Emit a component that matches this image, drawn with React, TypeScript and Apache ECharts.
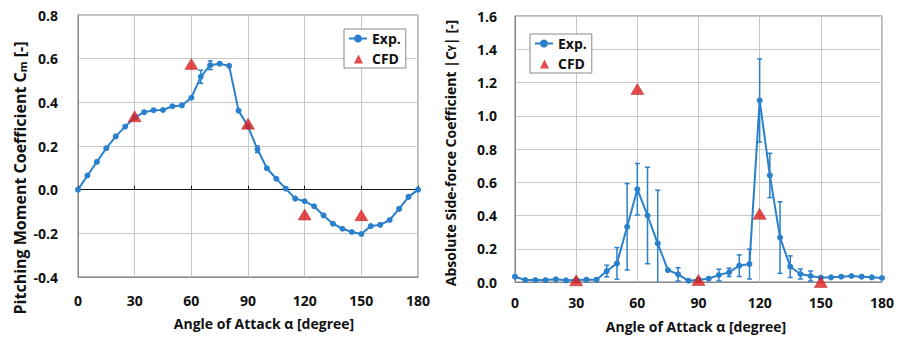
import React, { useEffect, useRef } from "react";
import * as echarts from "echarts";

const angles = [0, 5, 10, 15, 20, 25, 30, 35, 40, 45, 50, 55, 60, 65, 70, 75, 80, 85, 90, 95, 100, 105, 110, 115, 120, 125, 130, 135, 140, 145, 150, 155, 160, 165, 170, 175, 180];
const cmExp = [0, 0.065, 0.127, 0.19, 0.244, 0.289, 0.33, 0.355, 0.364, 0.365, 0.382, 0.386, 0.421, 0.517, 0.57, 0.577, 0.567, 0.362, 0.29, 0.185, 0.098, 0.05, 0.005, -0.041, -0.053, -0.076, -0.118, -0.156, -0.179, -0.194, -0.203, -0.167, -0.161, -0.139, -0.088, -0.033, 0];
const cmErr = [0, 0, 0, 0, 0, 0, 0, 0, 0, 0, 0, 0, 0, 0.03, 0.02, 0, 0, 0, 0, 0.015, 0, 0, 0, 0, 0, 0, 0, 0, 0, 0, 0, 0, 0, 0, 0, 0, 0];
const cfdAngles = [30, 60, 90, 120, 150];
const cmCfd = [0.336, 0.576, 0.302, -0.114, -0.117];

const cyExp = [0.032, 0.012, 0.012, 0.012, 0.016, 0.01, 0.012, 0.014, 0.014, 0.066, 0.112, 0.332, 0.558, 0.4, 0.232, 0.072, 0.046, 0.008, 0.014, 0.02, 0.042, 0.058, 0.098, 0.108, 1.092, 0.641, 0.267, 0.092, 0.048, 0.036, 0.026, 0.028, 0.032, 0.036, 0.032, 0.028, 0.024];
const cyErr = [0, 0, 0, 0, 0, 0, 0, 0, 0, 0.035, 0.095, 0.26, 0.155, 0.29, 0.32, 0, 0.04, 0, 0, 0, 0.035, 0.025, 0.065, 0.09, 0.25, 0.133, 0.215, 0.065, 0.03, 0.03, 0, 0, 0, 0, 0, 0, 0];
const cyCfd = [0.01, 1.161, 0.012, 0.41, 0.0];

const xTicks = [0, 30, 60, 90, 120, 150, 180];

const FONT = "'Open Sans', 'Noto Sans', sans-serif";
const BLUE = "#2b80cc";
const RED = "#e11d1d";
const TRI_ICON = "path://M0,0 M18,10 M5,10 L9.5,1 L14,10 Z";

function errRender(params: any, api: any) {
  const x = api.value(0);
  const y = api.value(1);
  const e = api.value(2);
  if (!e) return null;
  const top = api.coord([x, y + e]);
  const bot = api.coord([x, y - e]);
  const style = { stroke: BLUE, lineWidth: 1.5 };
  return {
    type: "group",
    children: [
      { type: "line", shape: { x1: top[0], y1: top[1], x2: bot[0], y2: bot[1] }, style },
      { type: "line", shape: { x1: top[0] - 2.5, y1: top[1], x2: top[0] + 2.5, y2: top[1] }, style },
      { type: "line", shape: { x1: bot[0] - 2.5, y1: bot[1], x2: bot[0] + 2.5, y2: bot[1] }, style },
    ],
  };
}

function legendFor(left: number, top: number) {
  return {
    left,
    top,
    orient: "vertical",
    data: [
      { name: "Exp." },
      { name: "CFD", icon: TRI_ICON, itemStyle: { color: RED, borderWidth: 0 } },
    ],
    backgroundColor: "#fff",
    borderColor: "#888",
    borderWidth: 1,
    padding: [2, 5, 2, 4],
    itemGap: 5,
    itemWidth: 18,
    itemHeight: 10,
    textStyle: { fontFamily: FONT, fontWeight: "bold", fontSize: 14, color: "#111", lineHeight: 15 },
    selectedMode: false,
  };
}

export default function App() {
  const ref = useRef<HTMLDivElement>(null);
  useEffect(() => {
    document.body.style.margin = "0";
    const chart = echarts.init(ref.current!, undefined, { renderer: "svg" });
    const axisLabel = { fontFamily: FONT, fontWeight: "bold" as const, fontSize: 14, color: "#111" };
    const xAxisBase = (gridIndex: number, margin: number) => ({
      type: "value",
      gridIndex,
      min: 0,
      max: 180,
      interval: 30,
      axisLine: { show: true, onZero: false, lineStyle: { color: "#888" } },
      axisTick: { show: false },
      axisLabel: { ...axisLabel, margin, formatter: (v: number) => (xTicks.includes(v) ? String(v) : "") },
      splitLine: { show: true, lineStyle: { color: "#c8c8c8", width: 1 } },
    });
    const option: any = {
      animation: false,
      backgroundColor: "#fff",
      grid: [
        { left: 78, top: 15, width: 340, height: 262, show: true, borderColor: "#777", borderWidth: 1, backgroundColor: "transparent" },
        { left: 515, top: 16, width: 368, height: 266, show: true, borderColor: "#777", borderWidth: 1, backgroundColor: "transparent" },
      ],
      xAxis: [
        xAxisBase(0, 16),
        xAxisBase(1, 13),
        {
          type: "value",
          gridIndex: 0,
          position: "top",
          min: 0,
          max: 180,
          interval: 30,
          axisLine: { show: true, onZero: true, lineStyle: { color: "#111", width: 1.2 } },
          axisTick: { show: true, inside: false, length: 4, lineStyle: { color: "#111" } },
          axisLabel: { show: false },
          splitLine: { show: false },
        },
      ],
      yAxis: [
        {
          type: "value",
          gridIndex: 0,
          min: -0.4,
          max: 0.8,
          interval: 0.2,
          axisLine: { show: true, lineStyle: { color: "#888" } },
          axisTick: { show: false },
          axisLabel: { ...axisLabel, margin: 20, formatter: (v: number) => v.toFixed(1) },
          splitLine: { show: true, lineStyle: { color: "#c8c8c8", width: 1 } },
        },
        {
          type: "value",
          gridIndex: 1,
          min: 0,
          max: 1.6,
          interval: 0.2,
          axisLine: { show: true, lineStyle: { color: "#888" } },
          axisTick: { show: false },
          axisLabel: { ...axisLabel, margin: 18, formatter: (v: number) => v.toFixed(1) },
          splitLine: { show: true, lineStyle: { color: "#c8c8c8", width: 1 } },
        },
      ],
      legend: [legendFor(344, 29), legendFor(530, 34)],
      series: [
        {
          type: "custom",
          xAxisIndex: 0,
          yAxisIndex: 0,
          renderItem: errRender,
          data: angles.map((a, i) => [a, cmExp[i], cmErr[i]]),
          z: 2,
          silent: true,
        },
        {
          name: "Exp.",
          type: "line",
          xAxisIndex: 0,
          yAxisIndex: 0,
          data: angles.map((a, i) => [a, cmExp[i]]),
          symbol: "circle",
          symbolSize: 6,
          lineStyle: { color: BLUE, width: 2 },
          itemStyle: { color: BLUE },
          z: 3,
        },
        {
          name: "CFD",
          type: "scatter",
          xAxisIndex: 0,
          yAxisIndex: 0,
          data: cfdAngles.map((a, i) => [a, cmCfd[i]]),
          symbol: "triangle",
          symbolSize: [13, 11],
          itemStyle: { color: RED, borderColor: "#a01010", borderWidth: 0.5 },
          z: 4,
        },
        {
          type: "custom",
          xAxisIndex: 1,
          yAxisIndex: 1,
          renderItem: errRender,
          data: angles.map((a, i) => [a, cyExp[i], cyErr[i]]),
          z: 2,
          clip: true,
          silent: true,
        },
        {
          name: "Exp.",
          type: "line",
          xAxisIndex: 1,
          yAxisIndex: 1,
          data: angles.map((a, i) => [a, cyExp[i]]),
          symbol: "circle",
          symbolSize: 6,
          lineStyle: { color: BLUE, width: 2 },
          itemStyle: { color: BLUE },
          z: 3,
        },
        {
          name: "CFD",
          type: "scatter",
          xAxisIndex: 1,
          yAxisIndex: 1,
          data: cfdAngles.map((a, i) => [a, cyCfd[i]]),
          symbol: "triangle",
          symbolSize: [13, 11],
          itemStyle: { color: RED, borderColor: "#a01010", borderWidth: 0.5 },
          z: 4,
        },
      ],
      graphic: [
        {
          type: "text",
          x: 18,
          y: 178,
          rotation: Math.PI / 2,
          style: {
            text: "{a|Pitching Moment Coefficient C}{s|m}{a| [-]}",
            align: "center",
            verticalAlign: "middle",
            rich: {
              a: { fontFamily: FONT, fontWeight: "bold", fontSize: 16, fill: "#111", lineHeight: 20, verticalAlign: "bottom" },
              s: { fontFamily: FONT, fontWeight: "bold", fontSize: 11, fill: "#111", lineHeight: 20, verticalAlign: "bottom", padding: [5, 0, 0, 0] },
            },
          },
        },
        {
          type: "text",
          x: 448,
          y: 153,
          rotation: Math.PI / 2,
          style: {
            text: "{a|Absolute Side-force Coefficient |C}{s|Y}{a|| [-]}",
            align: "center",
            verticalAlign: "middle",
            rich: {
              a: { fontFamily: FONT, fontWeight: "bold", fontSize: 14, fill: "#111", lineHeight: 18, verticalAlign: "bottom" },
              s: { fontFamily: FONT, fontWeight: "bold", fontSize: 10, fill: "#111", lineHeight: 18, verticalAlign: "bottom", padding: [4, 0, 0, 0] },
            },
          },
        },
        {
          type: "text",
          x: 264,
          y: 323,
          style: {
            text: "Angle of Attack α [degree]",
            align: "center",
            verticalAlign: "middle",
            font: `bold 14px ${FONT}`,
            fill: "#111",
          },
        },
        {
          type: "text",
          x: 696,
          y: 326,
          style: {
            text: "Angle of Attack α [degree]",
            align: "center",
            verticalAlign: "middle",
            font: `bold 14px ${FONT}`,
            fill: "#111",
          },
        },
      ],
    };
    chart.setOption(option);
    return () => chart.dispose();
  }, []);
  return <div ref={ref} style={{ position: "absolute", left: 0, top: 0, width: 897, height: 338 }} />;
}
